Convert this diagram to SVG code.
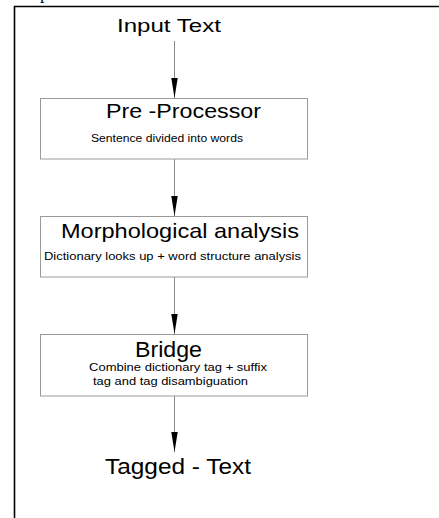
<svg xmlns="http://www.w3.org/2000/svg" width="439" height="518" viewBox="0 0 439 518">
  <style>
    .frame { fill: none; stroke: #000; stroke-width: 1.6; }
    .box { fill: #fff; stroke: #9a9a9a; stroke-width: 1; }
    .link { stroke: #8a8a8a; stroke-width: 1; fill: none; marker-end: url(#head); }
    .t { font-family: "Liberation Sans", Arial, sans-serif; fill: #000; }
    .cap { font-family: "Liberation Serif", "Times New Roman", serif; fill: #000; }
  </style>
  <defs>
    <marker id="head" markerUnits="userSpaceOnUse" markerWidth="22" markerHeight="8" viewBox="-21 -4 22 8" refX="0" refY="0" orient="auto">
      <path d="M-20,-3.2 L0,0 L-20,3.2 Z" fill="#000"/>
    </marker>
  </defs>
  <rect width="439" height="518" fill="#fff"/>

  <!-- clipped caption glyph above the frame -->
  <text class="cap" x="40" y="-1" font-size="18">p</text>

  <!-- outer frame (top and left edges) -->
  <path class="frame" d="M14.5,518 L14.5,6.5 L439,6.5"/>

  <g id="connectors">
    <line class="link" x1="174.5" y1="41" x2="174.5" y2="98"/>
    <line class="link" x1="174.5" y1="159" x2="174.5" y2="216"/>
    <line class="link" x1="174.5" y1="277" x2="174.5" y2="334"/>
    <line class="link" x1="174.5" y1="396" x2="174.5" y2="452"/>
  </g>

  <g id="input">
    <text class="t" x="117" y="32" font-size="18" textLength="104" lengthAdjust="spacingAndGlyphs">Input Text</text>
  </g>

  <g id="preprocessor">
    <rect class="box" x="40.5" y="98.5" width="267" height="60.5"/>
    <text class="t" x="106" y="117.5" font-size="19.5" textLength="155" lengthAdjust="spacingAndGlyphs">Pre -Processor</text>
    <text class="t" x="91" y="141.5" font-size="10" textLength="152" lengthAdjust="spacingAndGlyphs">Sentence divided into words</text>
  </g>

  <g id="morphology">
    <rect class="box" x="40.5" y="216.5" width="267" height="60.5"/>
    <text class="t" x="61" y="238" font-size="21" textLength="238" lengthAdjust="spacingAndGlyphs">Morphological analysis</text>
    <text class="t" x="44" y="259.5" font-size="11.5" textLength="257" lengthAdjust="spacingAndGlyphs">Dictionary looks up + word structure analysis</text>
  </g>

  <g id="bridge">
    <rect class="box" x="40.5" y="334.5" width="267" height="61.5"/>
    <text class="t" x="135" y="356.5" font-size="22" textLength="67" lengthAdjust="spacingAndGlyphs">Bridge</text>
    <text class="t" x="89" y="371" font-size="11.5" textLength="178" lengthAdjust="spacingAndGlyphs">Combine dictionary tag + suffix</text>
    <text class="t" x="93" y="385" font-size="11.5" textLength="155" lengthAdjust="spacingAndGlyphs">tag and tag disambiguation</text>
  </g>

  <g id="output">
    <text class="t" x="105" y="474" font-size="21.5" textLength="146" lengthAdjust="spacingAndGlyphs">Tagged - Text</text>
  </g>
</svg>
